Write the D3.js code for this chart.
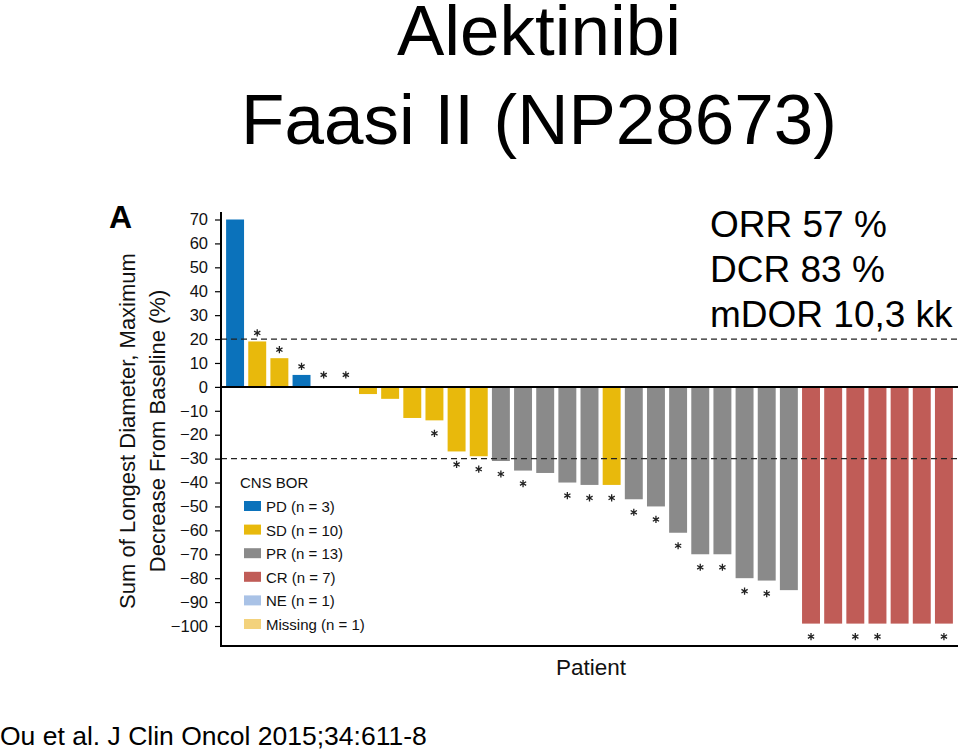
<!DOCTYPE html>
<html><head><meta charset="utf-8">
<script src="https://cdn.jsdelivr.net/npm/d3@7"></script>
<style>
html,body{margin:0;padding:0;background:#fff;}
svg{display:block;font-family:"Liberation Sans",Arial,Helvetica,sans-serif;}
</style></head>
<body><svg id="c" width="960" height="752"></svg>
<script>
// ---- data ----
const values = [70, 19, 12, 5, 0, 0, -3, -5, -13, -14, -27, -29, -31, -35, -36, -40, -41, -41, -47, -50, -61, -70, -70, -80, -81, -85, -99, -99, -99, -99, -99, -99, -99];
const responses = ["PD","SD","SD","PD","NE","Missing","SD","SD","SD","SD","SD","SD","PR","PR","PR","PR","PR","SD","PR","PR","PR","PR","PR","PR","PR","PR","CR","CR","CR","CR","CR","CR","CR"];
const asterisks = [0,1,1,1,1,1,0,0,0,1,1,1,1,1,0,1,1,1,1,1,1,1,1,1,1,0,1,0,1,1,0,0,1];
const legendKeys = ["PD","SD","PR","CR","NE","Missing"];
const legendLabels = ["PD (n = 3)","SD (n = 10)","PR (n = 13)","CR (n = 7)","NE (n = 1)","Missing (n = 1)"];
const colors = ["#0b72bb","#e8b90c","#8a8a8a","#c05c57","#a9c2e6","#f3d27c"];
const yTicks = [70,60,50,40,30,20,10,0,-10,-20,-30,-40,-50,-60,-70,-80,-90,-100];
const thresholds = [20, -30];
const titleLines = ["Alektinibi","Faasi II (NP28673)"];
const statLines = ["ORR 57 %","DCR 83 %","mDOR 10,3 kk"];
const yTitleLines = ["Sum of Longest Diameter, Maximum","Decrease From Baseline (%)"];

const svg = d3.select("#c");
const color = d3.scaleOrdinal().domain(legendKeys).range(colors);
const x = d3.scaleBand().domain(d3.range(values.length)).range([224, 955]).paddingInner(0.19).paddingOuter(0.095);
const y = d3.scaleLinear().domain([-100, 70]).range([626, 219.5]);
const axisLeft = 221, axisRight = 958, axisBottom = 646, axisTop = 212;

// title
svg.append("g").selectAll("text").data(titleLines).join("text")
  .attr("x", 539).attr("y", (d,i)=> 55 + i*89)
  .attr("text-anchor","middle").attr("font-size", 71).attr("fill","#000").text(d=>d);

// stats
svg.append("g").selectAll("text").data(statLines).join("text")
  .attr("x", 710).attr("y", (d,i)=> 237 + i*45)
  .attr("font-size", 37).attr("fill","#000").text(d=>d);

// citation
svg.append("text").attr("x", 0).attr("y", 745).attr("font-size", 26.5).text("Ou et al. J Clin Oncol 2015;34:611-8");

// panel letter
svg.append("text").attr("x", 109).attr("y", 228).attr("font-size", 32).attr("font-weight","bold").text("A");

// y axis title
svg.append("g").selectAll("text").data(yTitleLines).join("text")
  .attr("transform", (d,i)=> `translate(${135 + i*30},431) rotate(-90)`)
  .attr("text-anchor","middle").attr("font-size", 22).attr("fill","#111").text(d=>d);

// x title
svg.append("text").attr("x", 591).attr("y", 675).attr("text-anchor","middle").attr("font-size", 22.5).attr("fill","#111").text("Patient");

// bars
svg.append("g").selectAll("rect").data(values).join("rect")
  .attr("x", (d,i)=> x(i)).attr("width", x.bandwidth())
  .attr("y", d=> y(Math.max(0,d))).attr("height", d=> Math.abs(y(d)-y(0)))
  .attr("fill", (d,i)=> color(responses[i]));

// asterisks
const ast = values.map((v,i)=>({v,i})).filter(d=>asterisks[d.i]);
svg.append("g").selectAll("path").data(ast).join("path")
  .attr("d", d3.symbol(d3.symbolAsterisk, 36))
  .attr("transform", d=>{
    const cy = d.v > 0 ? y(d.v) - 8.5 : (d.v === 0 ? y(0) - 12 : y(d.v) + 13);
    return `translate(${x(d.i) + x.bandwidth()/2},${cy})`;
  })
  .attr("fill","none").attr("stroke","#222").attr("stroke-width",1.3);

// threshold dashed lines
svg.append("g").selectAll("line").data(thresholds).join("line")
  .attr("x1", axisLeft).attr("x2", axisRight).attr("y1", d=>y(d)).attr("y2", d=>y(d))
  .attr("stroke","#222").attr("stroke-width",1.3).attr("stroke-dasharray","6,4");

// zero line
svg.append("line").attr("x1", axisLeft).attr("x2", axisRight).attr("y1", y(0)).attr("y2", y(0))
  .attr("stroke","#000").attr("stroke-width",2);
// bottom line
svg.append("line").attr("x1", axisLeft).attr("x2", axisRight).attr("y1", axisBottom).attr("y2", axisBottom)
  .attr("stroke","#000").attr("stroke-width",2);

// y axis
const fmt = d => d < 0 ? "\u2212" + Math.abs(d) : String(d);
const ya = svg.append("g").attr("transform", `translate(${axisLeft},0)`)
  .call(d3.axisLeft(y).tickValues(yTicks).tickFormat(fmt).tickSize(6).tickSizeOuter(0).tickPadding(7));
ya.select(".domain").remove();
ya.selectAll(".tick line").attr("stroke","#000").attr("stroke-width",1.2);
ya.selectAll(".tick text").attr("font-size",16.5).attr("fill","#111").attr("font-family","Liberation Sans, Arial, sans-serif");
svg.append("line").attr("x1", axisLeft).attr("x2", axisLeft).attr("y1", axisTop).attr("y2", axisBottom+1)
  .attr("stroke","#000").attr("stroke-width",2);

// legend
const lg = svg.append("g");
lg.append("text").attr("x", 240).attr("y", 488).attr("font-size", 15).attr("fill","#111").text("CNS BOR");
const items = lg.selectAll("g.item").data(legendKeys).join("g").attr("class","item")
  .attr("transform", (d,i)=> `translate(0,${507 + i*23.6})`);
items.append("rect").attr("x", 244).attr("y", -6).attr("width", 17).attr("height", 10).attr("fill", d=>color(d));
items.append("text").attr("x", 266).attr("y", 5).attr("font-size", 15).attr("fill","#111").text((d,i)=>legendLabels[i]);
</script></body></html>
